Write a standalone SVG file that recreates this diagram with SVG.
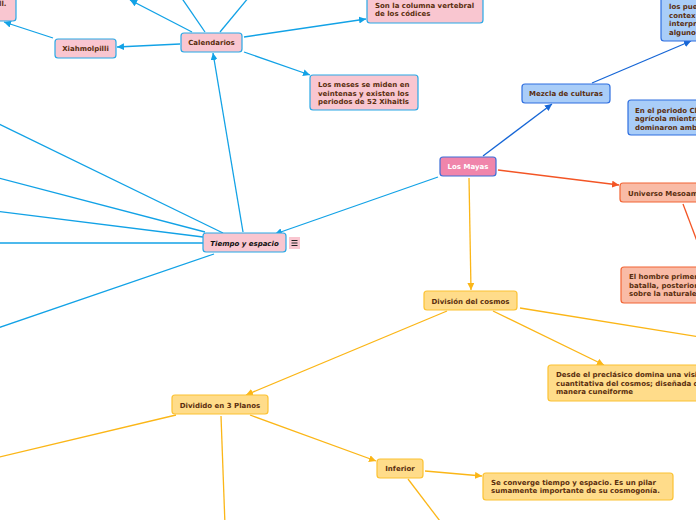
<svg xmlns="http://www.w3.org/2000/svg" width="696" height="520" viewBox="0 0 696 520">
<style>
text{font-family:"DejaVu Sans","Liberation Sans",sans-serif;font-size:7px;font-weight:bold;fill:#5a2e0e}
.c{text-anchor:middle}
.pink{fill:#f9c6d0;stroke:#29a8e6;stroke-width:1.2}
.blue{fill:#a9cdf8;stroke:#2f6fe0;stroke-width:1.2}
.mayas{fill:#f085ab;stroke:#3d6ed8;stroke-width:1.2}
.sal{fill:#f9bba6;stroke:#f26434;stroke-width:1.2}
.yel{fill:#ffdc8a;stroke:#fcc232;stroke-width:1.2}
.lb{stroke:#12a2e6;stroke-width:1.3;fill:none}
.db{stroke:#1666d6;stroke-width:1.3;fill:none}
.rd{stroke:#f35525;stroke-width:1.3;fill:none}
.yl{stroke:#fbb617;stroke-width:1.3;fill:none}
</style>
<defs>
<marker id="alb" markerUnits="userSpaceOnUse" markerWidth="8" markerHeight="7" refX="7" refY="3.5" orient="auto"><path d="M0,0 L7,3.5 L0,7 z" fill="#12a2e6"/></marker>
<marker id="adb" markerUnits="userSpaceOnUse" markerWidth="8" markerHeight="7" refX="7" refY="3.5" orient="auto"><path d="M0,0 L7,3.5 L0,7 z" fill="#1666d6"/></marker>
<marker id="ard" markerUnits="userSpaceOnUse" markerWidth="8" markerHeight="7" refX="7" refY="3.5" orient="auto"><path d="M0,0 L7,3.5 L0,7 z" fill="#f35525"/></marker>
<marker id="ayl" markerUnits="userSpaceOnUse" markerWidth="8" markerHeight="7" refX="7" refY="3.5" orient="auto"><path d="M0,0 L7,3.5 L0,7 z" fill="#fbb617"/></marker>
</defs>
<rect width="696" height="520" fill="#fff"/>
<g id="connectors">
<line class="lb" x1="180" y1="44" x2="117" y2="47" marker-end="url(#alb)"/>
<line class="lb" x1="53" y1="38" x2="4" y2="22" marker-end="url(#alb)"/>
<line class="lb" x1="192" y1="32" x2="130" y2="0" marker-end="url(#alb)"/>
<line class="lb" x1="205" y1="32" x2="181" y2="-3"/>
<line class="lb" x1="220" y1="32" x2="249" y2="-3"/>
<line class="lb" x1="244" y1="37" x2="366" y2="19" marker-end="url(#alb)"/>
<line class="lb" x1="244" y1="52" x2="310" y2="75" marker-end="url(#alb)"/>
<line class="lb" x1="243" y1="232" x2="213" y2="53" marker-end="url(#alb)"/>
<line class="lb" x1="438" y1="177" x2="275" y2="234" marker-end="url(#alb)"/>
<line class="lb" x1="223" y1="233" x2="-5" y2="122"/>
<line class="lb" x1="205" y1="232" x2="-5" y2="177"/>
<line class="lb" x1="203" y1="237" x2="-5" y2="211"/>
<line class="lb" x1="203" y1="243" x2="-5" y2="243"/>
<line class="lb" x1="214" y1="254" x2="-5" y2="329"/>
<line class="db" x1="483" y1="156" x2="552" y2="104" marker-end="url(#adb)"/>
<line class="db" x1="592" y1="83" x2="691" y2="41" marker-end="url(#adb)"/>
<line class="rd" x1="498" y1="170" x2="619" y2="185" marker-end="url(#ard)"/>
<line class="rd" x1="683" y1="204" x2="708" y2="270"/>
<line class="yl" x1="469" y1="178" x2="471" y2="290" marker-end="url(#ayl)"/>
<line class="yl" x1="447" y1="311" x2="246" y2="395" marker-end="url(#ayl)"/>
<line class="yl" x1="493" y1="311" x2="604" y2="365" marker-end="url(#ayl)"/>
<line class="yl" x1="520" y1="308" x2="700" y2="337"/>
<line class="yl" x1="176" y1="415" x2="-5" y2="458"/>
<line class="yl" x1="221" y1="416" x2="225" y2="525"/>
<line class="yl" x1="250" y1="415" x2="376" y2="461" marker-end="url(#ayl)"/>
<line class="yl" x1="425" y1="471" x2="482" y2="476" marker-end="url(#ayl)"/>
<line class="yl" x1="408" y1="479" x2="443" y2="525"/>
</g>
<g id="n-topleft"><rect class="pink" x="-40" y="-15" width="56" height="36" rx="3"/><text x="-1" y="6">ll.</text></g>
<g id="n-xiahmolpilli"><rect class="pink" x="55" y="39" width="61" height="19" rx="3"/><text class="c" x="85.5" y="51">Xiahmolpilli</text></g>
<g id="n-calendarios"><rect class="pink" x="181" y="33" width="61" height="19" rx="3"/><text class="c" x="211.5" y="45">Calendarios</text></g>
<g id="n-columna"><rect class="pink" x="367" y="-10" width="116" height="33" rx="3"/><text x="375" y="7.5">Son la columna vertebral</text><text x="375" y="16">de los códices</text></g>
<g id="n-meses"><rect class="pink" x="310" y="75" width="108" height="35" rx="3"/><text x="318" y="87">Los meses se miden en</text><text x="318" y="95.5">veintenas y existen los</text><text x="318" y="104">periodos de 52 Xihaitls</text></g>
<g id="n-mezcla"><rect class="blue" x="522" y="84" width="88" height="19" rx="3"/><text class="c" x="566" y="96">Mezcla de culturas</text></g>
<g id="n-pueblos"><rect class="blue" x="661" y="-20" width="50" height="61" rx="3"/><text x="669" y="9">los pue</text><text x="669" y="17.5">contex</text><text x="669" y="26">interpr</text><text x="669" y="34.5">alguno</text></g>
<g id="n-periodo"><rect class="blue" x="628" y="100" width="80" height="35" rx="3"/><text x="635" y="112.5">En el periodo Cl</text><text x="635" y="121">agrícola mientra</text><text x="635" y="129.5">dominaron amb</text></g>
<g id="n-mayas"><rect class="mayas" x="440" y="157" width="56" height="19" rx="3"/><text class="c" x="468" y="169" style="fill:#fff">Los Mayas</text></g>
<g id="n-universo"><rect class="sal" x="620" y="183" width="90" height="19" rx="3"/><text x="628" y="195.5">Universo Mesoam</text></g>
<g id="n-hombre"><rect class="sal" x="621" y="267" width="90" height="36" rx="3"/><text x="629" y="279">El hombre primer</text><text x="629" y="287.5">batalla, posterior</text><text x="629" y="296">sobre la naturale</text></g>
<g id="n-tiempo"><rect class="pink" x="203" y="233" width="83" height="19" rx="3"/><text class="c" x="244.5" y="246" style="fill:#111;font-style:italic">Tiempo y espacio</text>
<rect x="289" y="237" width="11" height="12" fill="#f9c6d0"/><path d="M291.5,240.5h6M291.5,243h6M291.5,245.5h6" stroke="#222" stroke-width="1"/></g>
<g id="n-division"><rect class="yel" x="424" y="291" width="93" height="19" rx="3"/><text class="c" x="470.5" y="303.5">División del cosmos</text></g>
<g id="n-desde"><rect class="yel" x="548" y="365" width="160" height="36" rx="3"/><text x="556" y="377">Desde el preclásico domina una visi</text><text x="556" y="385.5">cuantitativa del cosmos; diseñada d</text><text x="556" y="394">manera cuneiforme</text></g>
<g id="n-dividido"><rect class="yel" x="172" y="395" width="96" height="19" rx="3"/><text class="c" x="220" y="408">Dividido en 3 Planos</text></g>
<g id="n-inferior"><rect class="yel" x="377" y="459" width="46" height="19" rx="3"/><text class="c" x="400" y="471">Inferior</text></g>
<g id="n-converge"><rect class="yel" x="483" y="473" width="190" height="27" rx="3"/><text x="491" y="484.5">Se converge tiempo y espacio. Es un pilar</text><text x="491" y="493">sumamente importante de su cosmogonía.</text></g>
</svg>
